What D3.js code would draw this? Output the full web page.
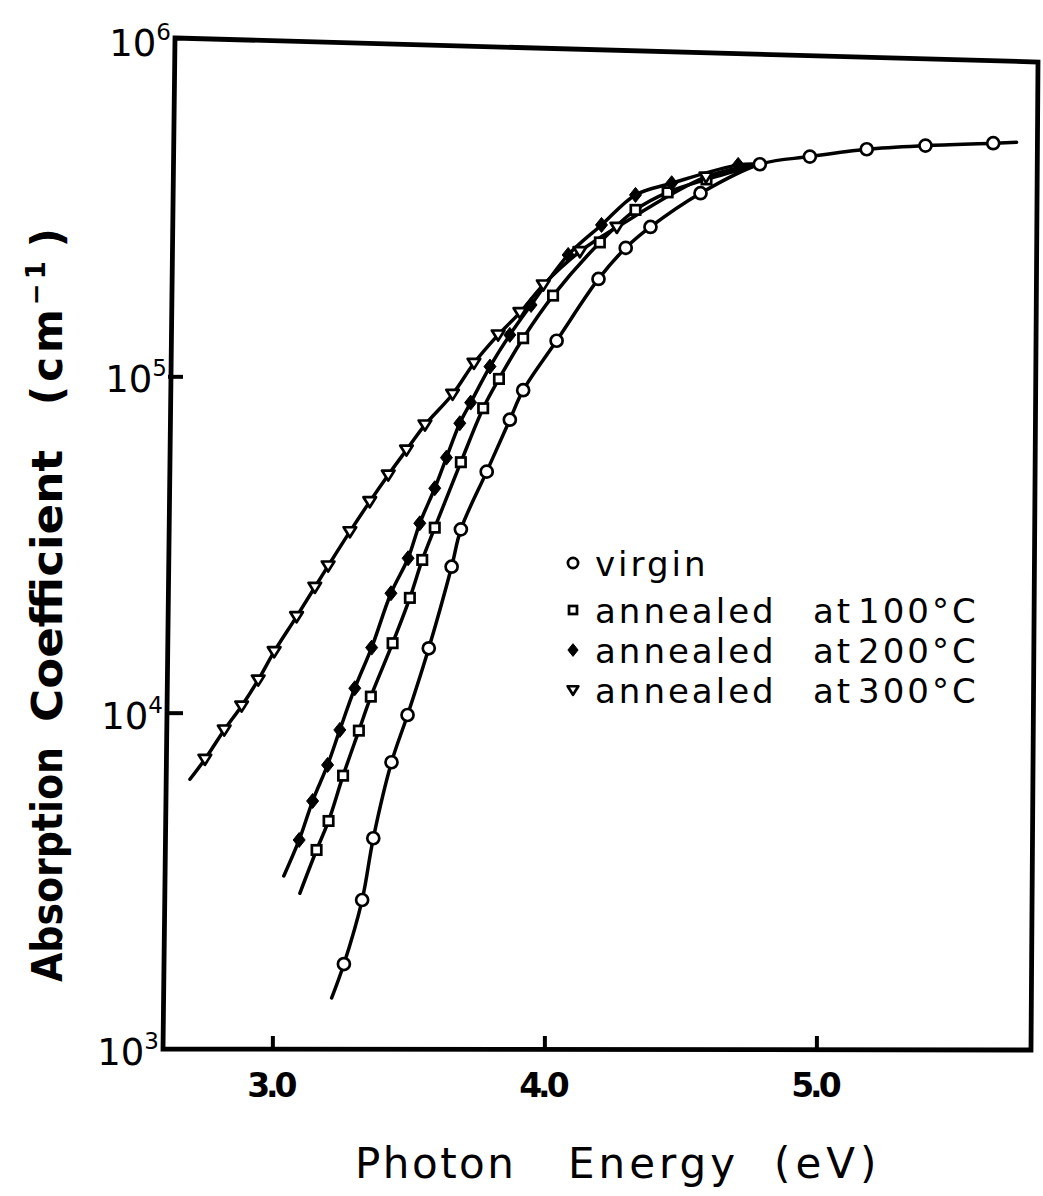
<!DOCTYPE html>
<html>
<head>
<meta charset="utf-8">
<script src="https://cdn.jsdelivr.net/npm/d3@7"></script>
<style>
  html, body { margin: 0; padding: 0; background: #fff; }
  svg { display: block; }
  text { font-family: "DejaVu Sans", sans-serif; fill: #000; }
</style>
</head>
<body>
<svg id="chart" width="1043" height="1196"></svg>
<script>
// ---------- data (photon energy in eV, absorption coefficient in cm^-1) ----------
const virgin = [
  [3.263, 1789], [3.330, 2773], [3.371, 4232], [3.438, 7121], [3.497, 9840],
  [3.575, 15540], [3.659, 27160], [3.693, 35080], [3.788, 52080], [3.873, 74300],
  [3.922, 90930], [4.045, 127600], [4.199, 194800], [4.299, 240900], [4.390, 278100],
  [4.574, 350300], [4.792, 427200], [4.976, 450100], [5.185, 473400], [5.401, 485300],
  [5.650, 493300]
];
const virginEnds = [[3.218, 1418], [5.736, 496600]];

const annealed100 = [
  [3.1625, 3906], [3.2066, 4764], [3.260, 6496], [3.318, 8842], [3.362, 11160],
  [3.442, 16090], [3.5055, 21940], [3.551, 28450], [3.597, 35480], [3.693, 55550],
  [3.775, 80380], [3.833, 98240], [3.922, 129800], [4.032, 173800], [4.204, 250100],
  [4.335, 312500], [4.453, 352300], [4.596, 385000]
];
const annealed100Ends = [[3.101, 2904], [4.792, 427200]];

const annealed200 = [
  [3.0985, 4183], [3.148, 5462], [3.203, 6991], [3.248, 8885], [3.303, 11820],
  [3.365, 15610], [3.436, 22650], [3.499, 28780], [3.542, 36570], [3.597, 46480],
  [3.640, 57320], [3.689, 72530], [3.729, 83530], [3.800, 106900], [3.873, 132800],
  [3.951, 163000], [4.0875, 229600], [4.210, 281900], [4.335, 346300], [4.468, 375100],
  [4.7125, 425300]
];
const annealed200Ends = [[3.042, 3269], [4.792, 427200]];

const annealed300 = [
  [2.752, 7268], [2.823, 8885], [2.887, 10470], [2.948, 12510], [3.0066, 15190],
  [3.089, 19300], [3.156, 23600], [3.205, 27310], [3.285, 34530], [3.358, 42410],
  [3.426, 50910], [3.493, 60400], [3.561, 71710], [3.6625, 88470], [3.741, 109400],
  [3.830, 132800], [3.910, 154700], [3.996, 187000], [4.1305, 234900], [4.2665, 277500],
  [4.594, 391600]
];
const annealed300Ends = [[2.697, 6339], [4.792, 427200]];

const energyTicks = [3.0, 4.0, 5.0];
const energyTickLabels = ["3.0", "4.0", "5.0"];
const alphaTicks = [1e3, 1e4, 1e5, 1e6];
const alphaTickExponents = ["3", "4", "5", "6"];

const legendLabels = [
  ["virgin"],
  ["annealed", "at", "100°C"],
  ["annealed", "at", "200°C"],
  ["annealed", "at", "300°C"]
];
const seriesKinds = ["circle", "square", "diamond", "triangle"];

// ---------- layout ----------
const svg = d3.select("#chart");
const x = d3.scaleLinear().domain([2.62, 5.80]).range([169, 1034]);
const y = d3.scaleLog().domain([1e3, 1e6]).range([1049, 40]);

// frame (slightly skewed as in the scanned original)
const leftEdge = yy => 175 - 12 * (yy - 38) / 1011;
svg.append("path")
  .attr("d", "M175,38 L1038,62 L1031,1050 L163,1049 Z")
  .attr("fill", "none").attr("stroke", "#000").attr("stroke-width", 4.8)
  .attr("stroke-linejoin", "miter");

// axes ticks (inward)
const gx = svg.append("g").attr("transform", "translate(0,1049)")
  .call(d3.axisBottom(x).tickValues(energyTicks).tickSize(-13).tickFormat(""));
gx.select(".domain").remove();
gx.selectAll(".tick line").attr("stroke", "#000").attr("stroke-width", 4);

const gy = svg.append("g").attr("transform", "translate(168,0)")
  .call(d3.axisLeft(y).tickValues([1e4, 1e5]).tickSize(-15).tickFormat(""));
gy.select(".domain").remove();
gy.selectAll(".tick line").attr("stroke", "#000").attr("stroke-width", 4);

// x tick labels
svg.append("g").selectAll("text").data(energyTicks).join("text")
  .attr("x", d => x(d) - 2).attr("y", 1097)
  .attr("text-anchor", "middle")
  .attr("font-size", 33).attr("font-weight", "bold").attr("letter-spacing", -4)
  .text((d, i) => energyTickLabels[i]);

// y tick labels 10^n
const yl = svg.append("g").selectAll("text").data(alphaTicks).join("text")
  .attr("x", d => leftEdge(y(d)) - 4)
  .attr("y", d => y(d) + 16)
  .attr("text-anchor", "end")
  .attr("font-size", 37);
yl.append("tspan").text("10");
yl.append("tspan").attr("dy", -16).attr("font-size", 23).text((d, i) => alphaTickExponents[i]);

// x axis title
const xt = svg.append("text").attr("y", 1178).attr("font-size", 42).attr("letter-spacing", 2.5);
xt.append("tspan").attr("x", 355).text("Photon");
xt.append("tspan").attr("x", 568).attr("letter-spacing", 4).text("Energy");
xt.append("tspan").attr("x", 774).attr("letter-spacing", 5).text("(eV)");

// y axis title (rotated)
const yg = svg.append("g").attr("transform", "translate(62,0) rotate(-90)");
yg.append("text").attr("x", -982).attr("y", 0)
  .attr("font-size", 42).attr("font-weight", "bold")
  .attr("textLength", 235).attr("lengthAdjust", "spacingAndGlyphs")
  .text("Absorption");
yg.append("text").attr("x", -722).attr("y", 0)
  .attr("font-size", 42).attr("font-weight", "bold")
  .attr("textLength", 272).attr("lengthAdjust", "spacingAndGlyphs")
  .text("Coefficient");
const ycm = yg.append("text").attr("x", -405).attr("y", 0)
  .attr("font-size", 42).attr("font-weight", "bold").attr("letter-spacing", 4);
ycm.append("tspan").text("(cm");
ycm.append("tspan").attr("dy", -17).attr("font-size", 26).text("−1");
ycm.append("tspan").attr("dy", 17).attr("dx", 10).text(")");

// ---------- curves ----------
const line = d3.line().x(d => x(d[0])).y(d => y(d[1])).curve(d3.curveCatmullRom.alpha(0.5));
const seriesList = [
  [virgin, virginEnds],
  [annealed100, annealed100Ends],
  [annealed200, annealed200Ends],
  [annealed300, annealed300Ends]
];
seriesList.forEach(([pts, ends]) => {
  svg.append("path")
    .datum([ends[0], ...pts, ends[1]])
    .attr("d", line)
    .attr("fill", "none").attr("stroke", "#000").attr("stroke-width", 3.5)
    .attr("stroke-linecap", "round");
});

// ---------- markers ----------
function marker(g, kind, cx, cy, s) {
  if (kind === "circle") {
    g.append("circle").attr("cx", cx).attr("cy", cy).attr("r", 6 * s)
      .attr("fill", "#fff").attr("stroke", "#000").attr("stroke-width", 2.7);
  } else if (kind === "square") {
    const h = 4.7 * s;
    g.append("rect").attr("x", cx - h).attr("y", cy - h).attr("width", 2 * h).attr("height", 2 * h)
      .attr("fill", "#fff").attr("stroke", "#000").attr("stroke-width", 2.7);
  } else if (kind === "diamond") {
    const h = 7.5 * s;
    g.append("path").attr("d", `M${cx},${cy - h} L${cx + h * 0.8},${cy} L${cx},${cy + h} L${cx - h * 0.8},${cy} Z`)
      .attr("fill", "#000").attr("stroke", "#000").attr("stroke-width", 1);
  } else {
    const h = 6.3 * s;
    g.append("path").attr("d", `M${cx - h},${cy - h * 0.7} L${cx + h},${cy - h * 0.7} L${cx},${cy + h * 0.9} Z`)
      .attr("fill", "#fff").attr("stroke", "#000").attr("stroke-width", 2.7).attr("stroke-linejoin", "round");
  }
}
const mg = svg.append("g");
seriesList.forEach(([pts], i) => {
  pts.forEach(d => marker(mg, seriesKinds[i], x(d[0]), y(d[1]), 1));
});

// ---------- legend ----------
const legendBaselines = [576, 623, 663, 703];
const legendWordX = [595, 813, 858];
const lg = svg.append("g");
legendLabels.forEach((words, i) => {
  marker(lg, seriesKinds[i], 573, legendBaselines[i] - 13, 0.85);
  const t = lg.append("text").attr("y", legendBaselines[i])
    .attr("font-size", 34).attr("letter-spacing", 3);
  words.forEach((w, j) => {
    t.append("tspan").attr("x", legendWordX[j]).text(w);
  });
});
</script>
</body>
</html>
